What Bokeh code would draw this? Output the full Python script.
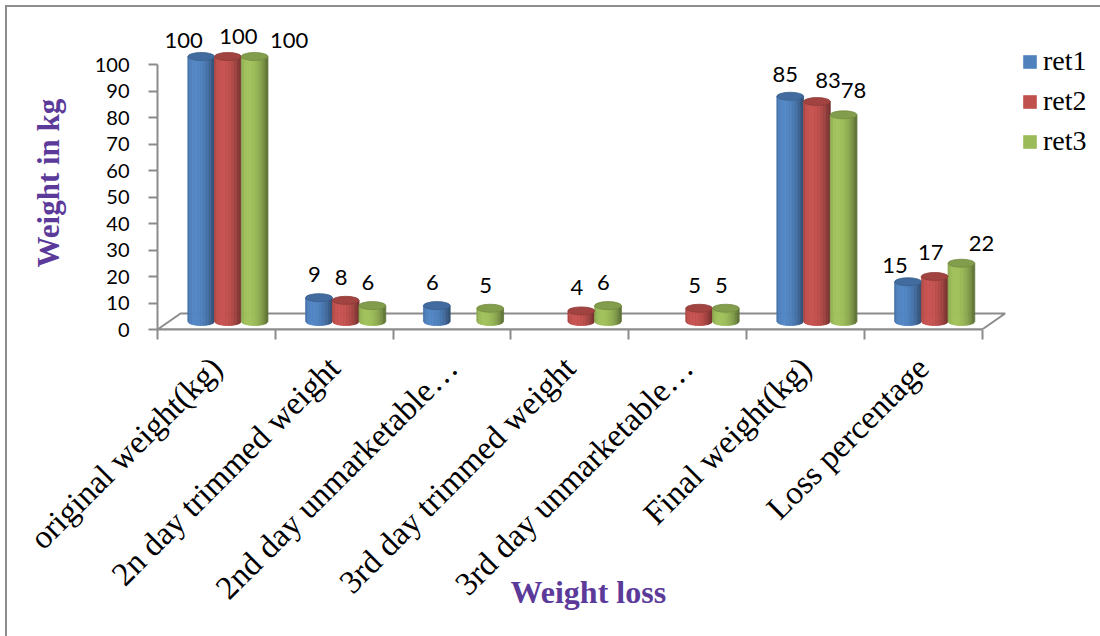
import math

from bokeh.core.properties import value
from bokeh.embed import file_html
from bokeh.models import (FixedTicker, InlineStyleSheet, Legend, LegendItem,
                          Range1d, Title)
from bokeh.plotting import figure
from bokeh.resources import INLINE

# ---------------------------------------------------------------- data
categories = [
    "original weight(kg)",
    "2n day trimmed weight",
    "2nd day unmarketable…",
    "3rd day trimmed weight",
    "3rd day unmarketable…",
    "Final weight(kg)",
    "Loss percentage",
]
series_names = ["ret1", "ret2", "ret3"]
ret1 = [100, 9, 6, None, None, 85, 15]
ret2 = [100, 8, None, 4, 5, 83, 17]
ret3 = [100, 6, 5, 6, 5, 78, 22]
y_ticks = [0, 10, 20, 30, 40, 50, 60, 70, 80, 90, 100]

# ---------------------------------------------------------------- style
series_colors = ["#4F81BD", "#C0504D", "#9BBB59"]
axis_grey = "#8c8c8c"
title_purple = "#5C3A9A"

W, H = 1100, 636
FRAME_L, FRAME_R, FRAME_T, FRAME_B = 157, 1100, 11, 329
px_x = 117.8                  # pixels per category
px_y = 2.65                   # pixels per kg
X_END = (FRAME_R - FRAME_L) / px_x
Y_END = (FRAME_B - FRAME_T) / px_y

depth_dx = 23 / px_x          # floor depth, x shift of the back edge
depth_dy = 16 / px_y          # floor depth, y shift of the back edge
bar_w = 26.7 / px_x           # cylinder diameter
cap_h = 8 / px_y              # height of the elliptical caps
n_strips = 18

# data label placement: (dx px, rise px above the cylinder top)
label_default = (-4.5, 23)
label_tweak = {
    (0, 0): (-17.5, 16), (0, 1): (10.5, 20), (0, 2): (34.5, 16),
    (5, 0): (-5, 22), (5, 1): (11, 21), (5, 2): (10, 24),
    (6, 0): (-13, 16), (6, 1): (-4, 23.5), (6, 2): (20, 20),
}


def shade(hex_color, f):
    r, g, b = (int(hex_color[i:i + 2], 16) for i in (1, 3, 5))
    return "#%02x%02x%02x" % tuple(
        max(0, min(255, round(c * f))) for c in (r, g, b))


def lighting(t):
    # simple diffuse light on a cylinder, light from the front-left
    nx, nz = t, math.sqrt(max(0.0, 1 - t * t))
    lx, lz = -0.4, 0.9
    d = max(0.0, (nx * lx + nz * lz) / math.hypot(lx, lz))
    return 0.62 + 0.42 * d


p = figure(
    width=W, height=H,
    x_range=Range1d(0, X_END), y_range=Range1d(0, Y_END),
    output_backend="svg", toolbar_location=None,
    min_border_left=FRAME_L, min_border_right=W - FRAME_R,
    min_border_top=FRAME_T, min_border_bottom=H - FRAME_B,
    background_fill_color="white", border_fill_color="white",
)
p.outline_line_color = None
p.xgrid.visible = False
p.ygrid.visible = False

# chart border (left / top edges)
p.stylesheets = [InlineStyleSheet(css=(
    ":host::after { content: ''; position: absolute; left: 5px; top: 5px;"
    " right: 0; bottom: 0; border-left: 2px solid #8d8d8d;"
    " border-top: 2px solid #8d8d8d; pointer-events: none; }"))]

# ---------------------------------------------------------------- floor
n_cat = len(categories)
p.patch(x=[0, n_cat, n_cat + depth_dx, depth_dx],
        y=[0, 0, depth_dy, depth_dy],
        fill_color=None, line_color=axis_grey, line_width=2)

# ---------------------------------------------------------------- cylinders
series_values = [ret1, ret2, ret3]
strip_xs, strip_ys, strip_col = [], [], []
cap_x, cap_y, cap_col, cap_line = [], [], [], []
lab_x, lab_y, lab_txt = [], [], []

base = depth_dy / 2
half = bar_w / 2
for c in range(n_cat):
    for s, vals in enumerate(series_values):
        v = vals[c]
        if v is None:
            continue
        cx = c + 0.5 + (s - 1) * bar_w + depth_dx / 2
        top = base + v
        col = series_colors[s]
        for k in range(n_strips):
            t0 = -1 + 2 * k / n_strips
            t1 = -1 + 2 * (k + 1) / n_strips
            tm = (t0 + t1) / 2
            x0, x1 = cx + t0 * half, cx + t1 * half
            yb0 = base - cap_h / 2 * math.sqrt(max(0.0, 1 - t0 * t0))
            yb1 = base - cap_h / 2 * math.sqrt(max(0.0, 1 - t1 * t1))
            strip_xs.append([x0, x1, x1, x0])
            strip_ys.append([top, top, yb1, yb0])
            strip_col.append(shade(col, lighting(tm)))
        cap_x.append(cx)
        cap_y.append(top)
        cap_col.append(shade(col, 0.84))
        cap_line.append(shade(col, 0.74))

        dx, rise = label_tweak.get((c, s), label_default)
        lab_x.append(cx + dx / px_x)
        lab_y.append(top + rise / px_y)
        lab_txt.append(str(v))

p.patches(xs=strip_xs, ys=strip_ys, fill_color=strip_col,
          line_color=strip_col, line_width=0.8)
p.ellipse(x=cap_x, y=cap_y, width=bar_w, height=cap_h,
          fill_color=cap_col, line_color=cap_line, line_width=0.8)

p.text(x=lab_x, y=lab_y, text=lab_txt, text_font=value("Lato"),
       text_font_size="22px", text_align="center", text_baseline="middle",
       text_color="black")

# ---------------------------------------------------------------- axes
ya = p.yaxis[0]
ya.ticker = FixedTicker(ticks=y_ticks, minor_ticks=[])
ya.bounds = (0, 100)
ya.axis_line_color = axis_grey
ya.axis_line_width = 2
ya.major_tick_line_color = axis_grey
ya.major_tick_line_width = 2
ya.major_tick_in = 0
ya.major_tick_out = 9
ya.minor_tick_line_color = None
ya.major_label_standoff = 19
ya.major_label_text_font = "Lato"
ya.major_label_text_font_size = "20px"
ya.major_label_text_color = "black"

p.add_layout(Title(
    text="Weight in kg", text_font="Liberation Serif", text_font_style="bold",
    text_font_size="31px", text_color=title_purple, align="left",
    offset=62, standoff=52), "left")

xa = p.xaxis[0]
centers = [i + 0.5 for i in range(n_cat)]
xa.ticker = FixedTicker(ticks=centers, minor_ticks=list(range(n_cat + 1)))
xa.major_label_overrides = {x: name for x, name in zip(centers, categories)}
xa.bounds = (0, n_cat)
xa.axis_line_color = axis_grey
xa.axis_line_width = 2
xa.major_tick_line_color = None
xa.major_tick_in = 0
xa.major_tick_out = 10
xa.minor_tick_line_color = axis_grey
xa.minor_tick_line_width = 2
xa.minor_tick_in = 0
xa.minor_tick_out = 10
xa.major_label_orientation = math.pi / 4
xa.major_label_standoff = 23
xa.major_label_text_font = "Liberation Serif"
xa.major_label_text_font_size = "33px"
xa.major_label_text_color = "black"

p.add_layout(Title(
    text="Weight loss", text_font="Liberation Serif", text_font_style="bold",
    text_font_size="32px", text_color=title_purple, align="left",
    vertical_align="top", offset=353, standoff=-96), "below")

# ---------------------------------------------------------------- legend
swatches = [p.quad(left=[0], right=[0], bottom=[0], top=[0], fill_color=col,
                   line_color=None) for col in series_colors]
legend = Legend(
    items=[LegendItem(label=name, renderers=[r])
           for name, r in zip(series_names, swatches)],
    location=(864, 172), orientation="vertical",
    background_fill_alpha=0, border_line_color=None,
    padding=0, margin=0, spacing=8,
    glyph_width=17, glyph_height=17, label_standoff=5,
    label_text_font="Liberation Serif", label_text_font_size="28px",
    label_text_color="black",
)
p.add_layout(legend, "center")

open("out.html", "w").write(file_html(p, INLINE))
